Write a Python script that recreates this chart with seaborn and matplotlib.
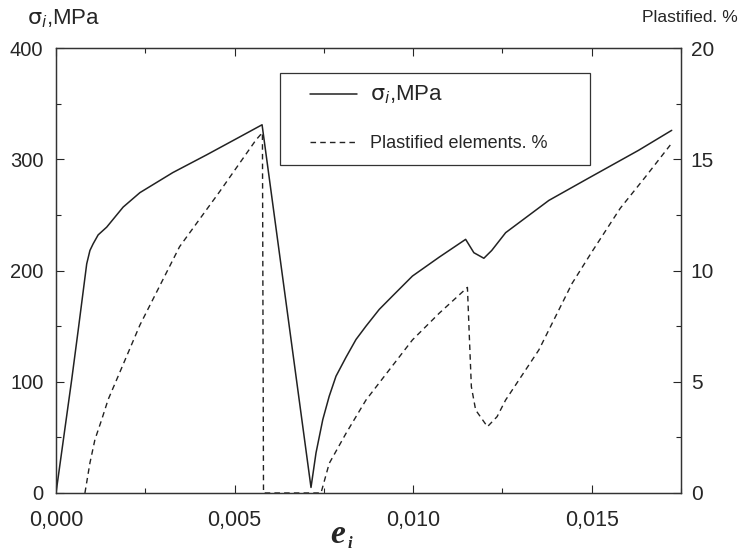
import matplotlib
matplotlib.use("Agg")
import matplotlib.pyplot as plt
from matplotlib.ticker import MultipleLocator, FuncFormatter
from matplotlib.patches import Rectangle
import seaborn as sns

# stress curve (left axis)
strain_s = [0.0, 0.00044, 0.00062, 0.00086, 0.00095, 0.00104, 0.00118, 0.00142,
            0.00188, 0.00235, 0.00327, 0.00422, 0.00514, 0.00577, 0.00714, 0.00728,
            0.00747, 0.00765, 0.00784, 0.00812, 0.0084, 0.00868, 0.00905, 0.00942,
            0.00998, 0.01073, 0.01147, 0.0117, 0.01198, 0.0122, 0.01259, 0.0138,
            0.01491, 0.01631, 0.01724]
sigma = [0, 102, 146, 206, 218, 224, 232, 239,
         257, 270, 288, 304, 320, 331, 5, 36,
         66, 87, 105, 122, 138, 150, 165, 177,
         195, 212, 228, 216, 211, 218, 234, 263,
         283, 308, 326]

# plastified elements curve (right axis)
strain_p = [0.00081, 0.00095, 0.00109, 0.00128, 0.00146, 0.0017, 0.00235, 0.00346,
            0.00458, 0.0056, 0.00578, 0.00581, 0.00742, 0.00765, 0.00812, 0.00868,
            0.00933, 0.00998, 0.01073, 0.01152, 0.01157, 0.01163, 0.01175, 0.01208,
            0.01235, 0.01259, 0.01352, 0.01445, 0.01501, 0.0158, 0.0165, 0.0172]
plast = [0, 1.35, 2.4, 3.3, 4.2, 5.1, 7.55, 11.07,
         13.54, 15.87, 16.2, 0, 0, 1.33, 2.68, 4.18,
         5.53, 6.88, 8.08, 9.24, 7.18, 4.78, 3.73, 2.98,
         3.43, 4.18, 6.43, 9.42, 10.85, 12.8, 14.2, 15.64]

sns.set_style("ticks")
plt.rcParams["font.family"] = ["Liberation Sans", "DejaVu Sans"]

fig = plt.figure(figsize=(7.45, 5.53), dpi=100)
ax = fig.add_axes([56 / 745, 1 - 493 / 553, 625 / 745, 445 / 553])
ax2 = ax.twinx()

line_col = "#222222"
sns.lineplot(x=strain_s, y=sigma, ax=ax, color=line_col, lw=1.1,
             sort=False, estimator=None)
sns.lineplot(x=strain_p, y=plast, ax=ax2, color=line_col, lw=1.0,
             linestyle=(0, (4, 3)), sort=False, estimator=None)

ax.set_xlim(0, 0.0175)
ax.set_ylim(0, 400)
ax2.set_ylim(0, 20)
ax.set_xlabel("")
ax.set_ylabel("")
ax2.set_ylabel("")

ax.xaxis.set_major_locator(MultipleLocator(0.005))
ax.xaxis.set_minor_locator(MultipleLocator(0.0025))
ax.xaxis.set_major_formatter(FuncFormatter(lambda v, p: f"{v:.3f}".replace(".", ",")))
ax.yaxis.set_major_locator(MultipleLocator(100))
ax.yaxis.set_minor_locator(MultipleLocator(50))
ax2.yaxis.set_major_locator(MultipleLocator(5))
ax2.yaxis.set_minor_locator(MultipleLocator(2.5))

ax.tick_params(axis="x", which="both", direction="in", top=True, labelsize=15.5, pad=12)
ax.tick_params(axis="y", which="both", direction="in", labelsize=14.5, pad=9)
ax.tick_params(which="major", length=6, width=0.8)
ax.tick_params(which="minor", length=3.5, width=0.8)
ax2.tick_params(axis="y", which="both", direction="in", labelsize=15, pad=7)
ax2.tick_params(which="major", length=6, width=0.8)
ax2.tick_params(which="minor", length=3.5, width=0.8)

for a in (ax, ax2):
    for s in a.spines.values():
        s.set_visible(True)
        s.set_linewidth(0.9)
        s.set_color("#333333")

# legend box and entries
ax2.add_patch(Rectangle((0.358, 0.737), 0.496, 0.207, transform=ax2.transAxes,
                        facecolor="white", edgecolor="#333333", lw=0.9, zorder=4))
h1 = ax.get_lines()[0]
h2 = ax2.get_lines()[0]
leg = ax2.legend([h1, h2], [r"$\mathrm{\sigma}_{i}$,MPa", "Plastified elements. %"],
                 loc="upper left", bbox_to_anchor=(0.4064, 0.920), borderaxespad=0,
                 fontsize=13, handlelength=2.6, handletextpad=0.7, borderpad=0,
                 labelspacing=1.6, frameon=False)
leg.set_zorder(5)
leg.get_texts()[0].set_fontsize(16)

# axis titles
fig.text(27 / 745, 1 - 19 / 553, r"$\mathrm{\sigma}_{i}$,MPa", fontsize=16,
         ha="left", va="center")
fig.text(738 / 745, 1 - 18 / 553, "Plastified. %", fontsize=12.5,
         ha="right", va="center")
fig.text(330 / 745, 1 - 543 / 553, "e", fontsize=24, family="Liberation Serif",
         style="italic", weight="bold", ha="left", va="baseline")
fig.text(348 / 745, 1 - 548 / 553, "i", fontsize=12, family="Liberation Serif",
         style="italic", weight="bold", ha="left", va="baseline")

fig.savefig("out.png", dpi=100)
